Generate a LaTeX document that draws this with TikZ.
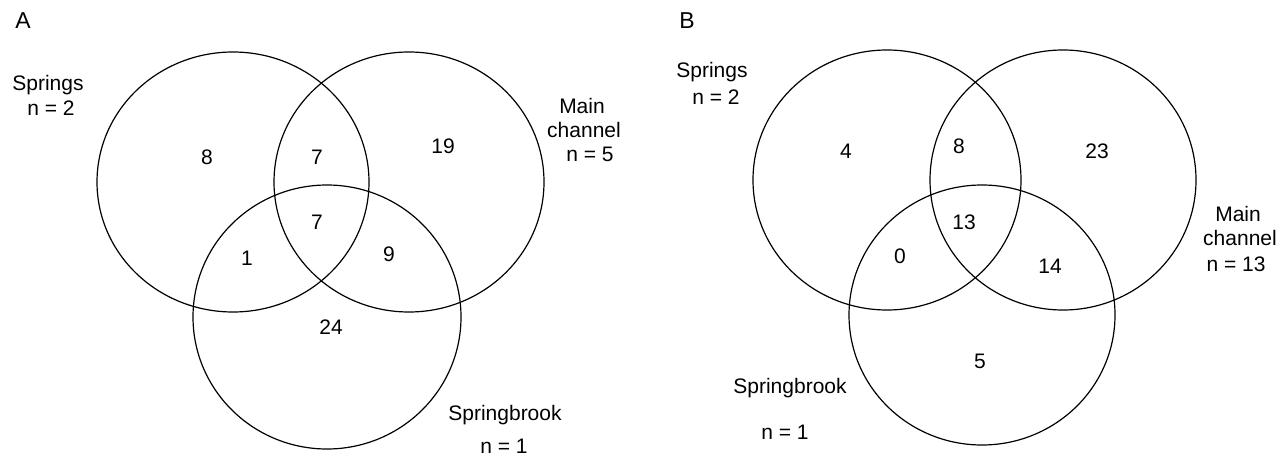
\documentclass[tikz,border=0pt]{standalone}
\usepackage{fontspec}
\setmainfont{Liberation Sans}
\tikzset{
  venn/.style={line width=0.6pt},
  count/.style={inner sep=0pt,font=\fontsize{10.5}{12}\selectfont},
  site/.style={inner sep=0pt,font=\fontsize{10.5}{12}\selectfont},
  panel/.style={inner sep=0pt,font=\fontsize{11.5}{13}\selectfont}
}
\begin{document}
\begin{tikzpicture}[x=0.5pt,y=-0.5pt]
\useasboundingbox (0,0) rectangle (1284,460);
% panel A
\node[panel] (pA) at (23,21) {A};
\coordinate (springsA) at (233,182);
\coordinate (mainA) at (409,182);
\coordinate (brookA) at (327,317);
\draw[venn] (springsA) ellipse [x radius=136, y radius=130];
\draw[venn] (mainA) ellipse [x radius=135, y radius=130];
\draw[venn] (brookA) ellipse [x radius=134, y radius=132];
\begin{scope}[every node/.style={site}]
    \node (sA1) at (48,85) {Springs};
    \node (sA2) at (51,108) {n = 2};
    \node (mA1) at (582,106) {Main};
    \node (mA2) at (584,130) {channel};
    \node (mA3) at (590,154) {n = 5};
    \node (bA1) at (505,415) {Springbrook};
    \node (bA2) at (504,446) {n = 1};
\end{scope}
\begin{scope}[every node/.style={count}]
    \node (a100) at (207,157) {8};
    \node (a110) at (317,157) {7};
    \node (a010) at (443,146) {19};
    \node (a111) at (317,222) {7};
    \node (a101) at (247,258) {1};
    \node (a011) at (389,254) {9};
    \node (a001) at (331,327) {24};
\end{scope}
% panel B
\node[panel] (pB) at (687,21) {B};
\coordinate (springsB) at (887,180);
\coordinate (mainB) at (1063,180);
\coordinate (brookB) at (982,315);
\draw[venn] (springsB) ellipse [x radius=134, y radius=130];
\draw[venn] (mainB) ellipse [x radius=133, y radius=130];
\draw[venn] (brookB) ellipse [x radius=133, y radius=130];
\begin{scope}[every node/.style={site}]
    \node (sB1) at (712,72) {Springs};
    \node (sB2) at (716,97) {n = 2};
    \node (mB1) at (1238,214) {Main};
    \node (mB2) at (1240,238) {channel};
    \node (mB3) at (1236,264) {n = 13};
    \node (bB1) at (790,388) {Springbrook};
    \node (bB2) at (785,432) {n = 1};
\end{scope}
\begin{scope}[every node/.style={count}]
    \node (b100) at (846,151) {4};
    \node (b110) at (959,146) {8};
    \node (b010) at (1097,151) {23};
    \node (b111) at (964,222) {13};
    \node (b101) at (900,256) {0};
    \node (b011) at (1050,266) {14};
    \node (b001) at (980,361) {5};
\end{scope}
\end{tikzpicture}
\end{document}
